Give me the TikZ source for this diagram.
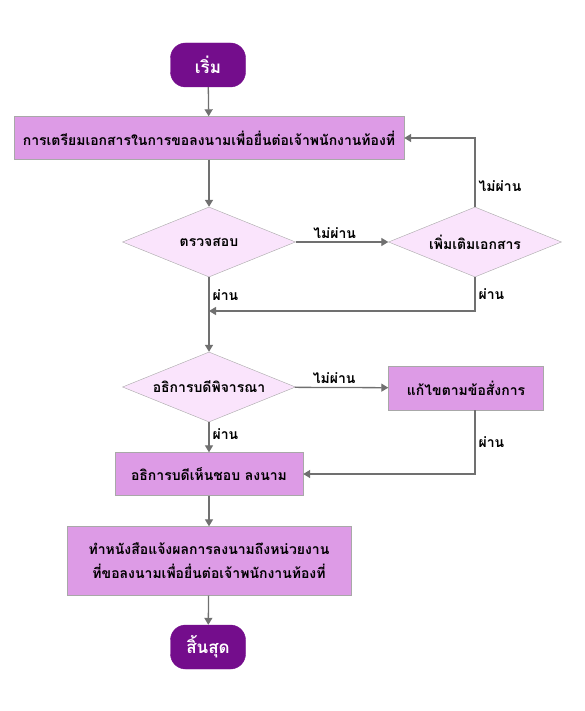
\documentclass[tikz,border=0pt]{standalone}
\usepackage{fontspec}
\newfontfamily\thaifont[Script=Thai]{Loma}
\usetikzlibrary{shapes.geometric, arrows.meta}
\definecolor{termpurple}{HTML}{740D8C}
\definecolor{boxviolet}{HTML}{DD9BE6}
\definecolor{decpink}{HTML}{FAE4FC}
\definecolor{edgegray}{HTML}{A8A8A8}
\definecolor{linegray}{HTML}{707070}

\tikzset{
  thaitext/.style={font=\thaifont\bfseries\fontsize{14}{24}\selectfont},
  terminal/.style={thaitext, fill=termpurple, draw=termpurple, rounded corners=15pt,
    minimum width=75pt, minimum height=44pt, text=white,
    font=\thaifont\bfseries\fontsize{17}{20}\selectfont},
  procbox/.style={thaitext, fill=boxviolet, draw=edgegray, minimum height=43pt, align=center},
  decision/.style={thaitext, diamond, fill=decpink, draw=edgegray, aspect=2.47,
    inner sep=0pt, minimum width=173pt, minimum height=70pt},
  flow/.style={draw=linegray, line width=1.3pt, -{Triangle[length=7pt, width=8pt]}},
  lbl/.style={thaitext, inner sep=3pt}
}

\begin{document}
\begin{tikzpicture}[x=1pt, y=-1pt]
  \useasboundingbox[fill=white] (0,0) rectangle (585,711);

  % main column
  \node[terminal] (start) at (208,65) {เริ่ม};
  \node[procbox, minimum width=390pt] (prep) at (209,138)
    {การเตรียมเอกสารในการขอลงนามเพื่อยื่นต่อเจ้าพนักงานท้องที่};
  \node[decision] (check) at (209,242) {ตรวจสอบ};
  \node[decision] (addmore) at (475,242) {เพิ่มเติมเอกสาร};
  \node[decision] (review) at (209,387) {อธิการบดีพิจารณา};
  \node[procbox, minimum width=155pt, minimum height=44pt] (fix) at (466,388) {แก้ไขตามข้อสั่งการ};
  \node[procbox, minimum width=188pt] (approve) at (209,474) {อธิการบดีเห็นชอบ ลงนาม};
  \node[procbox, minimum width=284pt, minimum height=69pt] (notice) at (209,561)
    {ทำหนังสือแจ้งผลการลงนามถึงหน่วยงาน\\ที่ขอลงนามเพื่อยื่นต่อเจ้าพนักงานท้องที่};
  \node[terminal] (finish) at (208,647) {สิ้นสุด};
  \coordinate (merge) at (209,311);

  % connectors
  \draw[flow] (start) -- (prep);
  \draw[flow] (prep) -- (check);
  \draw[flow] (check) -- node[lbl, above, pos=0.42] {ไม่ผ่าน} (addmore);
  \draw[flow] (addmore.north) |- node[lbl, right, pos=0.15] {ไม่ผ่าน} (prep.east);
  \draw[flow] (addmore.south) |- node[lbl, right, pos=0.25] {ผ่าน} (merge);
  \draw[flow] (check) -- node[lbl, right, pos=0.24] {ผ่าน} (review);
  \draw[flow] (review) -- node[lbl, above, pos=0.42] {ไม่ผ่าน} (fix);
  \draw[flow] (fix.south -| addmore) |- node[lbl, right, pos=0.25] {ผ่าน} (approve.east);
  \draw[flow] (review) -- node[lbl, right, pos=0.4] {ผ่าน} (approve);
  \draw[flow] (approve) -- (notice);
  \draw[flow] (notice) -- (finish);
\end{tikzpicture}
\end{document}
